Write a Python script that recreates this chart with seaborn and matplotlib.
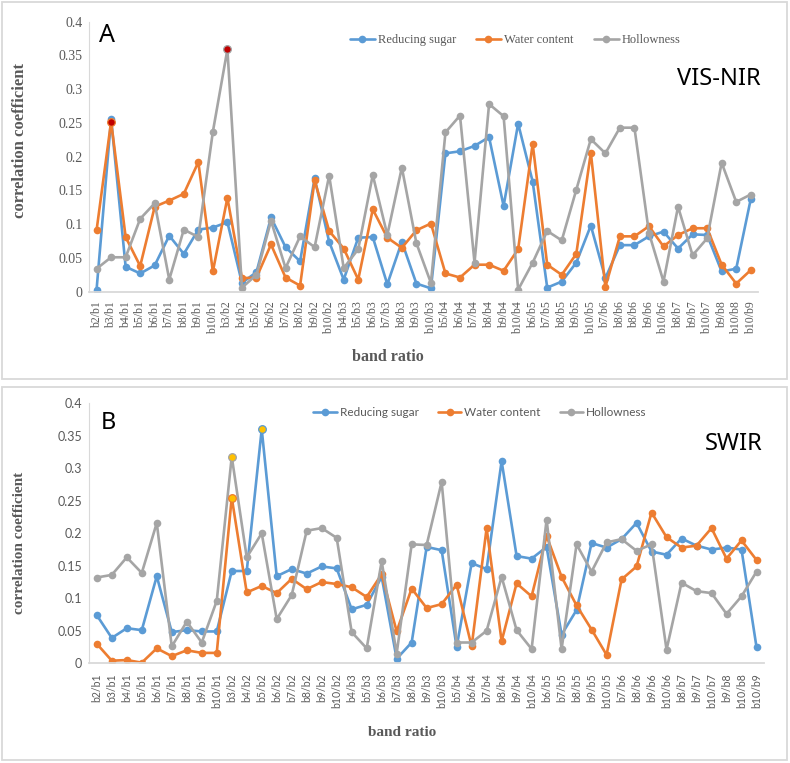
import numpy as np
import pandas as pd
import matplotlib
matplotlib.use("Agg")
import matplotlib.pyplot as plt
import seaborn as sns
from matplotlib.lines import Line2D
from matplotlib.patches import Rectangle

# ---- data: panel A (VIS-NIR), note the repeated b8/b6 category in the original
labels_a = ["b2/b1", "b3/b1", "b4/b1", "b5/b1", "b6/b1", "b7/b1", "b8/b1", "b9/b1", "b10/b1",
            "b3/b2", "b4/b2", "b5/b2", "b6/b2", "b7/b2", "b8/b2", "b9/b2", "b10/b2",
            "b4/b3", "b5/b3", "b6/b3", "b7/b3", "b8/b3", "b9/b3", "b10/b3",
            "b5/b4", "b6/b4", "b7/b4", "b8/b4", "b9/b4", "b10/b4",
            "b6/b5", "b7/b5", "b8/b5", "b9/b5", "b10/b5",
            "b7/b6", "b8/b6", "b8/b6", "b9/b6", "b10/b6",
            "b8/b7", "b9/b7", "b10/b7", "b9/b8", "b10/b8", "b10/b9"]
sugar_a = [0.003, 0.256, 0.037, 0.027, 0.039, 0.083, 0.056, 0.092, 0.095,
           0.103, 0.013, 0.029, 0.110, 0.066, 0.045, 0.168, 0.074,
           0.018, 0.080, 0.081, 0.011, 0.074, 0.012, 0.005,
           0.205, 0.208, 0.216, 0.229, 0.127, 0.249,
           0.163, 0.006, 0.015, 0.043, 0.098,
           0.020, 0.069, 0.069, 0.082, 0.089,
           0.064, 0.085, 0.084, 0.030, 0.034, 0.137]
water_a = [0.091, 0.252, 0.081, 0.038, 0.126, 0.135, 0.145, 0.192, 0.030,
           0.139, 0.020, 0.021, 0.070, 0.021, 0.009, 0.165, 0.090,
           0.064, 0.018, 0.122, 0.080, 0.065, 0.091, 0.101,
           0.027, 0.021, 0.040, 0.040, 0.031, 0.063,
           0.219, 0.040, 0.025, 0.056, 0.206,
           0.007, 0.082, 0.082, 0.097, 0.067,
           0.084, 0.094, 0.094, 0.040, 0.012, 0.032]
hollow_a = [0.034, 0.051, 0.051, 0.108, 0.131, 0.018, 0.092, 0.081, 0.237,
            0.359, 0.006, 0.025, 0.105, 0.035, 0.082, 0.066, 0.172,
            0.035, 0.063, 0.173, 0.084, 0.184, 0.072, 0.013,
            0.236, 0.261, 0.043, 0.278, 0.260, 0.003,
            0.043, 0.090, 0.076, 0.151, 0.226,
            0.205, 0.243, 0.243, 0.087, 0.015,
            0.126, 0.054, 0.079, 0.191, 0.133, 0.144]

# ---- data: panel B (SWIR)
labels_b = ["b2/b1", "b3/b1", "b4/b1", "b5/b1", "b6/b1", "b7/b1", "b8/b1", "b9/b1", "b10/b1",
            "b3/b2", "b4/b2", "b5/b2", "b6/b2", "b7/b2", "b8/b2", "b9/b2", "b10/b2",
            "b4/b3", "b5/b3", "b6/b3", "b7/b3", "b8/b3", "b9/b3", "b10/b3",
            "b5/b4", "b6/b4", "b7/b4", "b8/b4", "b9/b4", "b10/b4",
            "b6/b5", "b7/b5", "b8/b5", "b9/b5", "b10/b5",
            "b7/b6", "b8/b6", "b9/b6", "b10/b6",
            "b8/b7", "b9/b7", "b10/b7", "b9/b8", "b10/b8", "b10/b9"]
sugar_b = [0.074, 0.039, 0.054, 0.051, 0.134, 0.048, 0.051, 0.049, 0.049,
           0.142, 0.142, 0.360, 0.134, 0.145, 0.138, 0.149, 0.146,
           0.083, 0.090, 0.133, 0.007, 0.032, 0.179, 0.174,
           0.025, 0.154, 0.145, 0.311, 0.165, 0.161,
           0.179, 0.044, 0.082, 0.185, 0.178,
           0.191, 0.216, 0.172, 0.167,
           0.192, 0.181, 0.175, 0.178, 0.175, 0.025]
water_b = [0.030, 0.004, 0.005, 0.001, 0.023, 0.011, 0.020, 0.016, 0.016,
           0.255, 0.109, 0.119, 0.108, 0.130, 0.114, 0.125, 0.122,
           0.117, 0.102, 0.137, 0.049, 0.115, 0.085, 0.091,
           0.121, 0.026, 0.208, 0.034, 0.123, 0.103,
           0.196, 0.133, 0.089, 0.052, 0.013,
           0.129, 0.149, 0.232, 0.194,
           0.178, 0.181, 0.208, 0.161, 0.189, 0.159]
hollow_b = [0.132, 0.136, 0.163, 0.139, 0.216, 0.026, 0.064, 0.032, 0.096,
            0.318, 0.163, 0.200, 0.068, 0.105, 0.204, 0.208, 0.193,
            0.048, 0.023, 0.157, 0.015, 0.183, 0.182, 0.279,
            0.032, 0.032, 0.050, 0.133, 0.051, 0.022,
            0.221, 0.022, 0.183, 0.141, 0.186,
            0.191, 0.173, 0.183, 0.021,
            0.124, 0.111, 0.108, 0.076, 0.103, 0.141]

series_names = ["Reducing sugar", "Water content", "Hollowness"]
palette = {"Reducing sugar": "#5B9BD5", "Water content": "#ED7D31", "Hollowness": "#A5A5A5"}
# highlighted points: (series, index, fill colour)
marks_a = [("Water content", 1, "#C00000"), ("Hollowness", 9, "#C00000")]
marks_b = [("Hollowness", 9, "#FFC000"), ("Water content", 9, "#FFC000"), ("Reducing sugar", 11, "#FFC000")]

TEXT = "#595959"
AXIS = "#D9D9D9"

sns.set_style("white")
plt.rcParams['font.family'] = ['DejaVu Sans']


def long_df(labels, sugar, water, hollow):
    n = len(labels)
    return pd.DataFrame({
        "pos": np.tile(np.arange(n), 3),
        "value": np.concatenate([sugar, water, hollow]),
        "series": np.repeat(series_names, n),
    })


def draw_panel(ax, labels, df, marks, tick_font, tick_size, ytick_size):
    sns.lineplot(data=df, x="pos", y="value", hue="series", hue_order=series_names,
                 palette=palette, marker="o", markersize=5.5, markeredgewidth=0,
                 linewidth=1.9, sort=False, legend=False, ax=ax)
    for name, idx, fill in marks:
        sub = df[df["series"] == name]
        ax.plot(sub["pos"].iloc[idx], sub["value"].iloc[idx], "o", ms=5.5,
                mfc=fill, mec=palette[name], mew=0.9, zorder=5)
    n = len(labels)
    ax.set_xlim(-0.5, n - 0.5)
    ax.set_ylim(0, 0.4)
    yt = np.round(np.arange(0, 0.401, 0.05), 2)
    ax.set_yticks(yt)
    ax.set_yticklabels([f"{v:g}" for v in yt], family=tick_font, fontsize=ytick_size, color=TEXT)
    ax.set_xticks(np.arange(n))
    ax.set_xticklabels(labels, rotation=90, family=tick_font, fontsize=tick_size, color=TEXT)
    ax.tick_params(axis="y", length=0, pad=5)
    ax.tick_params(axis="x", length=0, pad=7)
    ax.set_xlabel("")
    ax.set_ylabel("")
    for s in ["top", "right"]:
        ax.spines[s].set_visible(False)
    ax.spines["left"].set_color(AXIS)
    ax.spines["left"].set_linewidth(0.8)
    ax.spines["bottom"].set_color(AXIS)
    ax.spines["bottom"].set_linewidth(1.3)


W, H = 790, 763
fig = plt.figure(figsize=(W / 100, H / 100), dpi=100)


def fx(px):
    return px / W


def fy(py):
    return 1 - py / H


ax_a = fig.add_axes([fx(89.3), fy(291.7), fx(758 - 89.3), (291.7 - 21.7) / H])
ax_b = fig.add_axes([fx(89.3), fy(663.3), fx(764 - 89.3), (663.3 - 403.3) / H])

draw_panel(ax_a, labels_a, long_df(labels_a, sugar_a, water_a, hollow_a), marks_a,
           "Liberation Serif", 8.5, 10)
draw_panel(ax_b, labels_b, long_df(labels_b, sugar_b, water_b, hollow_b), marks_b,
           "Lato", 7.6, 9)

# panel frames
fig.patches.append(Rectangle((fx(2), fy(379)), fx(785), 377 / H, transform=fig.transFigure,
                             fill=False, edgecolor=AXIS, lw=1.3))
fig.patches.append(Rectangle((fx(2), fy(760)), fx(785), 373 / H, transform=fig.transFigure,
                             fill=False, edgecolor=AXIS, lw=1.3))

# legends
handles = [Line2D([0], [0], color=palette[s], lw=1.9, marker="o", ms=5.5, mew=0) for s in series_names]
fig.legend(handles, series_names, loc="center", bbox_to_anchor=(fx(515), fy(40)), ncol=3,
           frameon=False, handlelength=2.0, columnspacing=1.6, handletextpad=0.25,
           prop={"family": "Liberation Serif", "size": 9}, labelcolor=TEXT)
fig.legend(handles, series_names, loc="center", bbox_to_anchor=(fx(480), fy(413)), ncol=3,
           frameon=False, handlelength=2.0, columnspacing=1.6, handletextpad=0.25,
           prop={"family": "Lato", "size": 8.5}, labelcolor=TEXT)

# axis titles
fig.text(fx(20), fy(140), "correlation coefficient", rotation=90, ha="center", va="center",
         family="Liberation Serif", weight="bold", fontsize=12, color=TEXT)
fig.text(fx(388), fy(357), "band ratio", ha="center", va="center",
         family="Liberation Serif", weight="bold", fontsize=11.5, color=TEXT)
fig.text(fx(20), fy(543), "correlation coefficient", rotation=90, ha="center", va="center",
         family="Liberation Serif", weight="bold", fontsize=11, color=TEXT)
fig.text(fx(402), fy(732), "band ratio", ha="center", va="center",
         family="Liberation Serif", weight="bold", fontsize=11, color=TEXT)

# panel letters and spectral range tags
fig.text(fx(99), fy(36), "A", ha="left", va="center", family="Noto Sans", fontsize=18, color="black")
fig.text(fx(101), fy(423), "B", ha="left", va="center", family="Noto Sans", fontsize=17, color="black")
fig.text(fx(761), fy(79), "VIS-NIR", ha="right", va="center", family="Noto Sans", fontsize=17, color="black")
fig.text(fx(763), fy(444), "SWIR", ha="right", va="center", family="Noto Sans", fontsize=17, color="black")

fig.savefig("out.png", dpi=100)
